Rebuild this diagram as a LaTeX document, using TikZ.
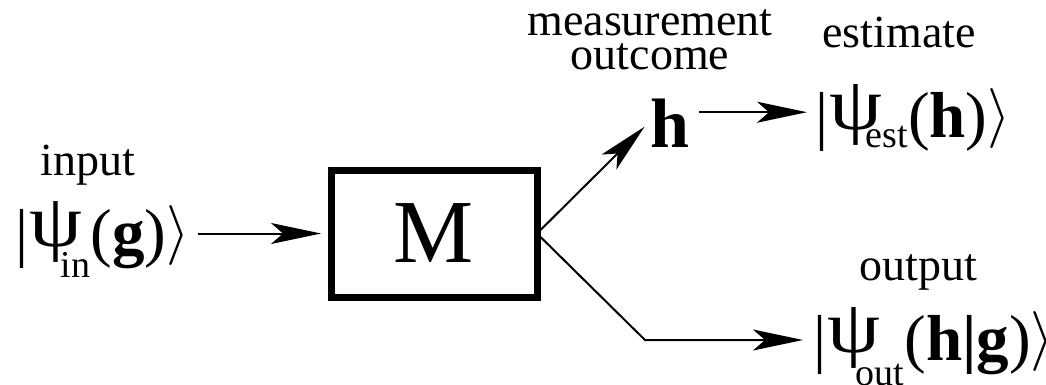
\documentclass[tikz,border=0pt]{standalone}
\usepackage{fontspec}
\setmainfont{Liberation Serif}
\usetikzlibrary{arrows.meta,calc}
\newcommand{\subtxt}[3]{\kern#2\raisebox{-#1}{\fontsize{38}{38}\selectfont #3}}
\newcommand{\rket}{\raisebox{4pt}{\resizebox*{!}{60pt}{$\rangle$}}}
\newcommand{\psiG}{\raisebox{8pt}{\scalebox{1.3}[1.15]{ψ}}}
\newcommand{\vbar}{|\kern1pt}
\begin{document}
\begin{tikzpicture}[x=1pt,y=-1pt,
  every node/.style={inner sep=0pt, outer sep=0pt},
  lbl/.style={font=\fontsize{46}{34}\selectfont, align=center},
  arr/.style={-{Stealth[length=50pt,width=21pt,inset=12pt]}, line width=2pt},
  ket/.style={font=\fontsize{65}{65}\selectfont, anchor=base west},
  boxst/.style={draw, line width=7pt, minimum width=206pt, minimum height=127pt, font=\fontsize{90}{90}\selectfont}]
\useasboundingbox (0,0) rectangle (1046,385);
\node[lbl, anchor=base] (inlbl) at (88,175) {input};
\node[ket] (in) at (15,254) {\vbar\psiG\subtxt{23pt}{-21pt}{in}(\textbf{g})\rket};
\node[boxst] (box) at (434,233.5) {M};
\node[anchor=base, font=\bfseries\fontsize{70}{70}\selectfont] (h) at (670,147) {h};
\node[lbl, anchor=south] (meas) at (650,70) {measurement\\outcome};
\node[lbl, anchor=base] (estl) at (899,48) {estimate};
\node[ket] (est) at (815,137) {\vbar\psiG\subtxt{10pt}{-16pt}{est}(\textbf{h})\rket};
\node[lbl, anchor=base] (outl) at (918,280) {output};
\node[ket] (out) at (813,360) {\vbar\psiG\subtxt{25pt}{-24pt}{out}(\textbf{h|g})\rket};
\coordinate (bend) at (645,340);
\draw[arr] ($(in.east |- box.west)+(8,0)$) -- ($(box.west)+(-10,0)$);
\draw[arr] (box.east) -- ($(h.west)+(-6,4)$);
\draw[arr] ($(h.east)+(10,-10.5)$) -- ($(h.east -| est.west)+(-8,-10.5)$);
\draw[arr] (box.east) -- (bend) -- ($(bend -| out.west)+(-10,0)$);
\end{tikzpicture}
\end{document}
